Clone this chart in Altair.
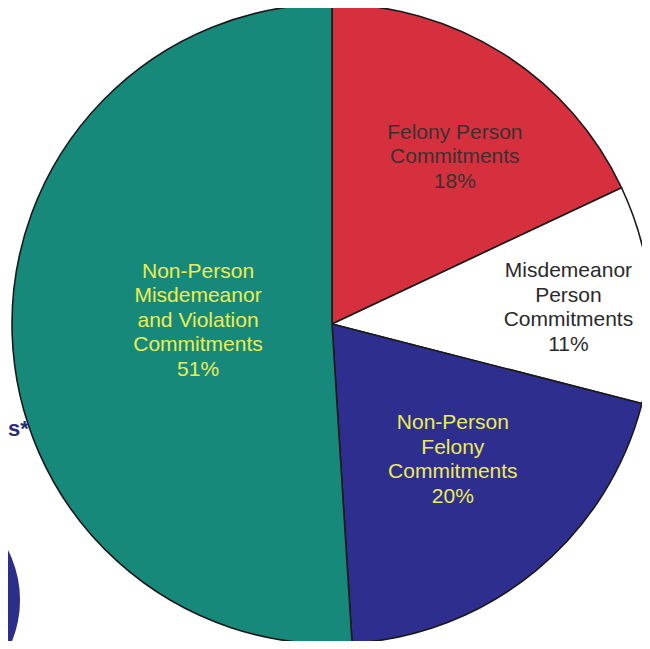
import altair as alt
import pandas as pd

# --- data ---
categories = [
    "Felony Person Commitments",
    "Misdemeanor Person Commitments",
    "Non-Person Felony Commitments",
    "Non-Person Misdemeanor and Violation Commitments",
]
label_lines = [
    "Felony Person\nCommitments",
    "Misdemeanor\nPerson\nCommitments",
    "Non-Person\nFelony\nCommitments",
    "Non-Person\nMisdemeanor\nand Violation\nCommitments",
]
percents = [18, 11, 20, 51]

# --- styling ---
slice_colors = ["#d6303f", "#ffffff", "#2e2e8e", "#17897a"]
text_colors = ["#3a3030", "#2a2a2a", "#ecec55", "#ecec55"]
label_radius = [207, 237, 182, 134]
label_angle_offset = [4, 1.5, -2, 3.2]

CX, CY, R = 324, 316, 320
LH = 24.5

labels_full = [f"{l}\n{p}%" for l, p in zip(label_lines, percents)]
df = pd.DataFrame({
    "cat": categories,
    "pct": percents,
    "order": list(range(len(categories))),
    "label": labels_full,
    "nlines": [s.count("\n") + 1 for s in labels_full],
    "tcolor": text_colors,
    "lr": label_radius,
    "loff": label_angle_offset,
})

base = alt.Chart(df)

pie = base.mark_arc(radius=R, stroke="#1a1a1a", strokeWidth=1.6).encode(
    theta=alt.Theta("pct:Q", stack=True),
    color=alt.Color("cat:N", scale=alt.Scale(domain=categories, range=slice_colors), legend=None),
    order=alt.Order("order:Q"),
    x=alt.value(CX),
    y=alt.value(CY),
)

labels = base.transform_window(
    cum="sum(pct)", sort=[alt.SortField("order", order="ascending")], frame=[None, 0]
).transform_joinaggregate(
    total="sum(pct)"
).transform_calculate(
    mid="(datum.cum - datum.pct/2)/datum.total*2*PI + datum.loff*PI/180",
).transform_calculate(
    lx=f"{CX} + datum.lr*sin(datum.mid)",
    ly=f"{CY} - datum.lr*cos(datum.mid) - (datum.nlines-1)*{LH}/2",
).mark_text(
    font="Liberation Sans", fontSize=21, lineHeight=LH, lineBreak="\n",
    align="center", baseline="middle",
).encode(
    x=alt.X("lx:Q", scale=None, axis=None),
    y=alt.Y("ly:Q", scale=None, axis=None),
    text="label:N",
    color=alt.Color("tcolor:N", scale=None),
)

# fragments of neighbouring content visible at the left edge of the scan
blob = alt.Chart(alt.Data(values=[{"a": 1}])).mark_arc(
    radius=110, theta=0, theta2=6.2832, color="#2c2f8a"
).encode(x=alt.value(-98), y=alt.value(592))

frag_text = alt.Chart(alt.Data(values=[{"t": "s*"}])).mark_text(
    font="Liberation Sans", fontSize=22, fontWeight="bold", color="#2b2b78",
    align="left", baseline="alphabetic",
).encode(x=alt.value(0), y=alt.value(428), text="t:N")

chart = alt.layer(blob, pie, labels, frag_text).properties(
    width=634, height=633, padding=0, background="#ffffff",
    autosize=alt.AutoSizeParams(type="none"),
).configure_view(stroke=None)

chart.save("out.html", embed_options={"renderer": "svg", "actions": False})
